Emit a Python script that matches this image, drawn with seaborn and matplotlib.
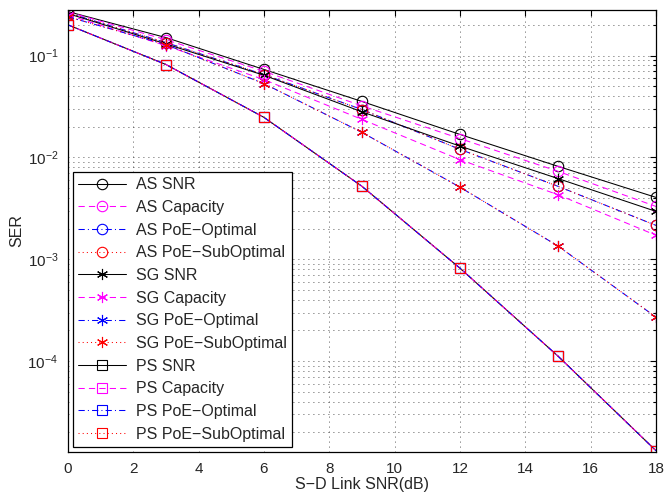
import numpy as np
import pandas as pd
import matplotlib
matplotlib.use("Agg")
import matplotlib.pyplot as plt
import seaborn as sns

snr = [0, 3, 6, 9, 12, 15, 18]

as_snr = [0.270, 0.150, 0.073, 0.0354, 0.0168, 0.00817, 0.00405]
as_cap = [0.268, 0.143, 0.070, 0.0320, 0.0153, 0.0073, 0.0033]
as_opt = [0.262, 0.134, 0.065, 0.0295, 0.0120, 0.0052, 0.00215]
as_sub = [0.262, 0.134, 0.065, 0.0295, 0.0120, 0.0052, 0.00215]
sg_snr = [0.258, 0.130, 0.064, 0.0280, 0.0129, 0.0062, 0.00295]
sg_cap = [0.250, 0.125, 0.058, 0.0236, 0.0095, 0.0043, 0.00172]
sg_opt = [0.240, 0.128, 0.053, 0.0176, 0.0051, 0.00135, 0.00027]
sg_sub = [0.240, 0.128, 0.053, 0.0176, 0.0051, 0.00135, 0.00027]
ps_snr = [0.200, 0.0816, 0.0247, 0.0052, 0.000817, 0.000112, 0.0000132]
ps_cap = [0.200, 0.0816, 0.0247, 0.0052, 0.000817, 0.000112, 0.0000132]
ps_opt = [0.200, 0.0816, 0.0247, 0.0052, 0.000817, 0.000112, 0.0000132]
ps_sub = [0.200, 0.0816, 0.0247, 0.0052, 0.000817, 0.000112, 0.0000132]

labels = ["AS SNR", "AS Capacity", "AS PoE\u2212Optimal", "AS PoE\u2212SubOptimal",
          "SG SNR", "SG Capacity", "SG PoE\u2212Optimal", "SG PoE\u2212SubOptimal",
          "PS SNR", "PS Capacity", "PS PoE\u2212Optimal", "PS PoE\u2212SubOptimal"]
series = [as_snr, as_cap, as_opt, as_sub, sg_snr, sg_cap, sg_opt, sg_sub,
          ps_snr, ps_cap, ps_opt, ps_sub]

colors = ["k", "#ff00ff", "#0000ff", "#ff0000"]
styles = ["-", (0, (6, 4)), (0, (6, 3, 1, 3)), (0, (1, 3))]
asterisk = (6, 2, 0)
markers = ["o", asterisk, "s"]
msizes = [7.5, 8, 7]

sns.set_style("white")
plt.rcParams["font.family"] = ["Liberation Sans", "DejaVu Sans"]
plt.rcParams["mathtext.fontset"] = "custom"
plt.rcParams["mathtext.rm"] = "Liberation Sans"
plt.rcParams["mathtext.it"] = "Liberation Sans"

fig = plt.figure(figsize=(6.69, 4.99), dpi=100)
ax = fig.add_axes([0.1016, 0.094, 0.879, 0.886])

for i, (lab, vals) in enumerate(zip(labels, series)):
    g, k = divmod(i, 4)
    df = pd.DataFrame({"x": snr, "y": vals})
    sns.lineplot(data=df, x="x", y="y", ax=ax, color=colors[k], linestyle=styles[k],
                 marker=markers[g], markersize=msizes[g], markerfacecolor="none",
                 markeredgecolor=colors[k], markeredgewidth=0.8, linewidth=0.75,
                 label=lab, estimator=None, sort=False)

ax.set_yscale("log")
ax.set_xlim(0, 18)
ax.set_ylim(1.28e-5, 0.28)
ax.set_xticks(range(0, 19, 2))
ax.set_yticks([1e-4, 1e-3, 1e-2, 1e-1])
ax.set_yticklabels([r"$10^{-4}$", r"$10^{-3}$", r"$10^{-2}$", r"$10^{-1}$"])

ax.grid(True, which="major", axis="both", linestyle=(0, (1, 5)), color="#222222", linewidth=0.6)
ax.grid(True, which="minor", axis="y", linestyle=(0, (1, 5)), color="#222222", linewidth=0.6)
ax.tick_params(which="both", direction="in", top=True, right=True, labelsize=11,
               length=4, width=0.8, color="k", pad=7)
ax.tick_params(which="minor", length=2)
for s in ax.spines.values():
    s.set_color("k")
    s.set_linewidth(0.9)

ax.set_xlabel("S\u2212D Link SNR(dB)", fontsize=11.5, labelpad=1)
ax.set_ylabel("SER", fontsize=11.5, labelpad=2)

leg = ax.legend(loc="lower left", fontsize=11.5, handlelength=3.0, labelspacing=0.48,
                borderaxespad=0.3, fancybox=False, framealpha=1, edgecolor="k",
                borderpad=0.35, handletextpad=0.6)
leg.get_frame().set_linewidth(0.9)

fig.savefig("out.png", dpi=100)
